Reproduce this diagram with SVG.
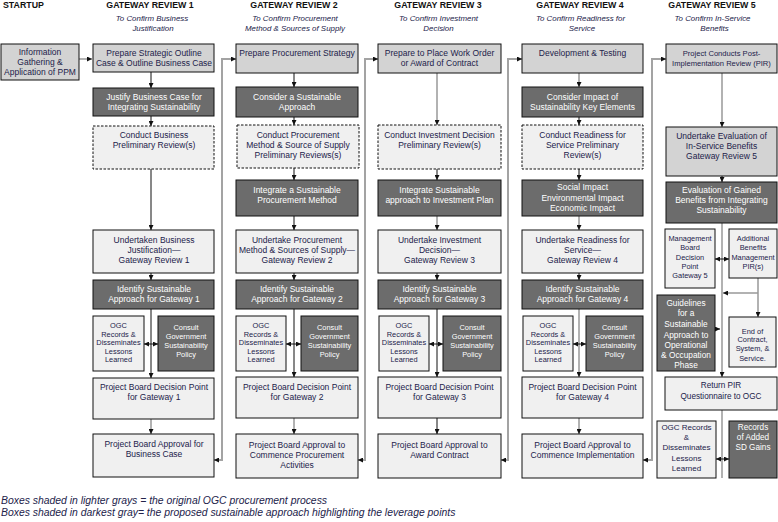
<svg xmlns="http://www.w3.org/2000/svg" width="778" height="522" viewBox="0 0 778 522">
<style>
.lt{fill:#d3d3d3;stroke:#111;stroke-width:1}
.lx{fill:#f0f0f0;stroke:#111;stroke-width:1}
.dk{fill:#6c6c6c;stroke:#111;stroke-width:1}
.ds{fill:#f0f0f0;stroke:#111;stroke-width:1;stroke-dasharray:2.5 1.5}
text{font-family:"Liberation Sans",Arial,sans-serif;font-size:8.5px;fill:#22224a;text-anchor:middle}
text.w{fill:#fff}
text.s{font-size:7.4px}
text.hd{font-weight:bold;font-size:8.8px;fill:#111}
text.sub{font-style:italic;font-size:7.9px}
text.lg{font-style:italic;font-size:10.4px;text-anchor:start}
.cb{stroke:#111;stroke-width:1;fill:none;marker-end:url(#a)}
.cg{stroke:#999;stroke-width:1.5;fill:none;marker-end:url(#a)}
.gl{stroke:#999;stroke-width:1.5;fill:none}
.sd{stroke:#a3a3a3;stroke-width:2;fill:none;marker-start:url(#a);marker-end:url(#a)}
</style>
<defs>
<marker id="a" viewBox="0 0 6 6" refX="6" refY="3" markerWidth="5" markerHeight="5" markerUnits="userSpaceOnUse" orient="auto-start-reverse"><path d="M0,0L6,3L0,6z" fill="#111"/></marker>
</defs>

<g id="headers">
<text class="hd" x="3" y="8" style="text-anchor:start">STARTUP</text>
<text class="hd" x="150" y="8">GATEWAY REVIEW 1</text>
<text class="sub" x="152" y="21">To Confirm Business</text>
<text class="sub" x="153" y="31">Justification</text>
<text class="hd" x="294" y="8">GATEWAY REVIEW 2</text>
<text class="sub" x="295" y="21">To Confirm Procurement</text>
<text class="sub" x="295" y="31">Method &amp; Sources of Supply</text>
<text class="hd" x="438" y="8">GATEWAY REVIEW 3</text>
<text class="sub" x="438.5" y="21">To Confirm Investment</text>
<text class="sub" x="438.5" y="31">Decision</text>
<text class="hd" x="580" y="8">GATEWAY REVIEW 4</text>
<text class="sub" x="580.5" y="21">To Confirm Readiness for</text>
<text class="sub" x="582" y="31">Service</text>
<text class="hd" x="712" y="8">GATEWAY REVIEW 5</text>
<text class="sub" x="712.5" y="21">To Confirm In-Service</text>
<text class="sub" x="714.5" y="31">Benefits</text>
</g>

<g id="connectors">
<line class="gl" x1="79" y1="59" x2="92" y2="59" style="marker-end:url(#a)"/>
<polyline class="sd" points="214,460 222,460 222,59 236,59"/>
<polyline class="sd" points="358,460 365,460 365,59 378,59"/>
<polyline class="sd" points="501,460 508,460 508,59 522,59"/>
<polyline class="sd" points="643,460 652,460 652,59 666,59"/>
<line class="cb" x1="151" y1="72" x2="151" y2="88"/>
<line class="cb" x1="151" y1="116" x2="151" y2="126"/>
<line class="cb" x1="151" y1="169" x2="151" y2="230"/>
<line class="cb" x1="151" y1="273" x2="151" y2="280"/>
<line class="cb" x1="151" y1="309" x2="151" y2="378"/>
<line class="cg" x1="151" y1="419" x2="151" y2="434"/>
<line class="cb" x1="151" y1="344" x2="144" y2="344"/>
<line class="cb" x1="151" y1="344" x2="158" y2="344"/>
<line class="cb" x1="294" y1="73" x2="294" y2="87"/>
<line class="cb" x1="294" y1="117" x2="294" y2="125"/>
<line class="cb" x1="294" y1="168" x2="294" y2="180"/>
<line class="cb" x1="294" y1="216" x2="294" y2="230"/>
<line class="cb" x1="294" y1="273" x2="294" y2="280"/>
<line class="cb" x1="294" y1="309" x2="294" y2="377"/>
<line class="cg" x1="294" y1="418" x2="294" y2="434"/>
<line class="cb" x1="294" y1="344" x2="286" y2="344"/>
<line class="cb" x1="294" y1="344" x2="301" y2="344"/>
<line class="cg" x1="437" y1="73" x2="437" y2="125"/>
<line class="cb" x1="437" y1="169" x2="437" y2="180"/>
<line class="cg" x1="437" y1="216" x2="437" y2="230"/>
<line class="cb" x1="437" y1="273" x2="437" y2="280"/>
<line class="cb" x1="437" y1="309" x2="437" y2="377"/>
<line class="cb" x1="437" y1="418" x2="437" y2="434"/>
<line class="cb" x1="437" y1="344" x2="429" y2="344"/>
<line class="cb" x1="437" y1="344" x2="443" y2="344"/>
<line class="cg" x1="579" y1="73" x2="579" y2="87"/>
<line class="cb" x1="579" y1="117" x2="579" y2="125"/>
<line class="cb" x1="579" y1="169" x2="579" y2="180"/>
<line class="cg" x1="579" y1="216" x2="579" y2="230"/>
<line class="cb" x1="579" y1="273" x2="579" y2="280"/>
<line class="cg" x1="579" y1="309" x2="579" y2="377"/>
<line class="cg" x1="579" y1="418" x2="579" y2="434"/>
<line class="cb" x1="579" y1="344" x2="573" y2="344"/>
<line class="cb" x1="579" y1="344" x2="586" y2="344"/>
<line class="cg" x1="722" y1="73" x2="722" y2="127"/>
<line class="cb" x1="722" y1="176" x2="722" y2="182"/>
<line class="cg" x1="722" y1="223" x2="722" y2="377"/>
<line class="cb" x1="722" y1="259" x2="715" y2="259"/>
<line class="cb" x1="722" y1="259" x2="729" y2="259"/>
<line class="cg" x1="758" y1="278" x2="758" y2="317"/>
<line class="cg" x1="758" y1="293" x2="723" y2="293"/>
<line class="cb" x1="715" y1="329" x2="720" y2="329"/>
<line class="gl" x1="722" y1="410" x2="722" y2="478"/>
<line class="cb" x1="722" y1="459" x2="716" y2="459"/>
<line class="cb" x1="722" y1="459" x2="729" y2="459"/>
</g>

<g id="startup">
<rect class="lt" x="1" y="44" width="78" height="36"/>
<text x="40" y="55">Information</text>
<text x="40" y="65">Gathering &amp;</text>
<text x="40" y="75">Application of PPM</text>
</g>

<g id="g1-prepare"><rect class="lt" x="93" y="44" width="121" height="28"/>
<text x="154" y="56">Prepare Strategic Outline</text><text x="154" y="66">Case &amp; Outline Business Case</text></g>
<g id="g1-justify"><rect class="dk" x="93" y="88" width="121" height="28"/>
<text class="w" x="154" y="100">Justify Business Case for</text><text class="w" x="154" y="110">Integrating Sustainability</text></g>
<g id="g1-conduct"><rect class="ds" x="93" y="126" width="121" height="43"/>
<text x="154" y="138">Conduct Business</text><text x="154" y="148">Preliminary Review(s)</text></g>
<g id="g1-undertaken"><rect class="lx" x="93" y="230" width="121" height="43"/>
<text x="154" y="243">Undertaken Business</text><text x="154" y="253">Justification—</text><text x="154" y="263">Gateway Review 1</text></g>
<g id="g1-identify"><rect class="dk" x="93" y="280" width="121" height="29"/>
<text class="w" x="154" y="292">Identify Sustainable</text><text class="w" x="154" y="302">Approach for Gateway 1</text></g>
<g id="g1-ogc"><rect class="lx" x="93" y="316" width="51" height="55"/>
<text class="s" x="118.5" y="328">OGC</text><text class="s" x="118.5" y="336.5">Records &amp;</text><text class="s" x="118.5" y="345">Disseminates</text><text class="s" x="118.5" y="353.5">Lessons</text><text class="s" x="118.5" y="362">Learned</text></g>
<g id="g1-consult"><rect class="dk" x="158" y="316" width="56" height="55"/>
<text class="s w" x="186" y="330">Consult</text><text class="s w" x="186" y="339">Government</text><text class="s w" x="186" y="348">Sustainability</text><text class="s w" x="186" y="357">Policy</text></g>
<g id="g1-decision"><rect class="lx" x="93" y="378" width="121" height="41"/>
<text x="154" y="390">Project Board Decision Point</text><text x="154" y="400">for Gateway 1</text></g>
<g id="g1-approval"><rect class="lx" x="93" y="434" width="121" height="43"/>
<text x="154" y="447">Project Board Approval for</text><text x="154" y="457">Business Case</text></g>

<g id="g2-prepare"><rect class="lt" x="236" y="44" width="122" height="29"/>
<text x="297" y="56">Prepare Procurement Strategy</text></g>
<g id="g2-consider"><rect class="dk" x="236" y="87" width="122" height="30"/>
<text class="w" x="297" y="100">Consider a Sustainable</text><text class="w" x="297" y="110">Approach</text></g>
<g id="g2-conduct"><rect class="ds" x="237" y="125" width="122" height="43"/>
<text x="298" y="138">Conduct Procurement</text><text x="298" y="148">Method &amp; Source of Supply</text><text x="298" y="158">Preliminary Reviews(s)</text></g>
<g id="g2-integrate"><rect class="dk" x="236" y="180" width="122" height="36"/>
<text class="w" x="297" y="193">Integrate a Sustainable</text><text class="w" x="297" y="203">Procurement Method</text></g>
<g id="g2-undertake"><rect class="lx" x="236" y="230" width="122" height="43"/>
<text x="297" y="243">Undertake Procurement</text><text x="297" y="253">Method &amp; Sources of Supply—</text><text x="297" y="263">Gateway Review 2</text></g>
<g id="g2-identify"><rect class="dk" x="236" y="280" width="122" height="29"/>
<text class="w" x="297" y="292">Identify Sustainable</text><text class="w" x="297" y="302">Approach for Gateway 2</text></g>
<g id="g2-ogc"><rect class="lx" x="236" y="316" width="50" height="55"/>
<text class="s" x="261" y="328">OGC</text><text class="s" x="261" y="336.5">Records &amp;</text><text class="s" x="261" y="345">Disseminates</text><text class="s" x="261" y="353.5">Lessons</text><text class="s" x="261" y="362">Learned</text></g>
<g id="g2-consult"><rect class="dk" x="301" y="316" width="57" height="55"/>
<text class="s w" x="329.5" y="330">Consult</text><text class="s w" x="329.5" y="339">Government</text><text class="s w" x="329.5" y="348">Sustainability</text><text class="s w" x="329.5" y="357">Policy</text></g>
<g id="g2-decision"><rect class="lx" x="236" y="377" width="122" height="41"/>
<text x="297" y="390">Project Board Decision Point</text><text x="297" y="400">for Gateway 2</text></g>
<g id="g2-approval"><rect class="lx" x="236" y="434" width="122" height="44"/>
<text x="297" y="448">Project Board Approval to</text><text x="297" y="458">Commence Procurement</text><text x="297" y="468">Activities</text></g>

<g id="g3-prepare"><rect class="lt" x="378" y="44" width="123" height="29"/>
<text x="439.5" y="56">Prepare to Place Work Order</text><text x="439.5" y="66">or Award of Contract</text></g>
<g id="g3-conduct"><rect class="ds" x="378" y="125" width="123" height="44"/>
<text x="439.5" y="138">Conduct Investment Decision</text><text x="439.5" y="148">Preliminary Review(s)</text></g>
<g id="g3-integrate"><rect class="dk" x="378" y="180" width="123" height="36"/>
<text class="w" x="439.5" y="193">Integrate Sustainable</text><text class="w" x="439.5" y="203">approach to Investment Plan</text></g>
<g id="g3-undertake"><rect class="lx" x="378" y="230" width="123" height="43"/>
<text x="439.5" y="243">Undertake Investment</text><text x="439.5" y="253">Decision—</text><text x="439.5" y="263">Gateway Review 3</text></g>
<g id="g3-identify"><rect class="dk" x="378" y="280" width="123" height="29"/>
<text class="w" x="439.5" y="292">Identify Sustainable</text><text class="w" x="439.5" y="302">Approach for Gateway 3</text></g>
<g id="g3-ogc"><rect class="lx" x="379" y="316" width="50" height="55"/>
<text class="s" x="404" y="328">OGC</text><text class="s" x="404" y="336.5">Records &amp;</text><text class="s" x="404" y="345">Disseminates</text><text class="s" x="404" y="353.5">Lessons</text><text class="s" x="404" y="362">Learned</text></g>
<g id="g3-consult"><rect class="dk" x="443" y="316" width="58" height="55"/>
<text class="s w" x="472" y="330">Consult</text><text class="s w" x="472" y="339">Government</text><text class="s w" x="472" y="348">Sustainability</text><text class="s w" x="472" y="357">Policy</text></g>
<g id="g3-decision"><rect class="lx" x="378" y="377" width="123" height="41"/>
<text x="439.5" y="390">Project Board Decision Point</text><text x="439.5" y="400">for Gateway 3</text></g>
<g id="g3-approval"><rect class="lx" x="378" y="434" width="123" height="44"/>
<text x="439.5" y="448">Project Board Approval to</text><text x="439.5" y="458">Award Contract</text></g>

<g id="g4-dev"><rect class="lt" x="522" y="44" width="121" height="29"/>
<text x="582.5" y="56">Development &amp; Testing</text></g>
<g id="g4-consider"><rect class="dk" x="522" y="87" width="121" height="30"/>
<text class="w" x="582.5" y="100">Consider Impact of</text><text class="w" x="582.5" y="110">Sustainability Key Elements</text></g>
<g id="g4-conduct"><rect class="ds" x="522" y="125" width="121" height="44"/>
<text x="582.5" y="138">Conduct Readiness for</text><text x="582.5" y="148">Service Preliminary</text><text x="582.5" y="158">Review(s)</text></g>
<g id="g4-impact"><rect class="dk" x="522" y="180" width="121" height="36"/>
<text class="w" x="582.5" y="190">Social Impact</text><text class="w" x="582.5" y="201">Environmental Impact</text><text class="w" x="582.5" y="211">Economic Impact</text></g>
<g id="g4-undertake"><rect class="lx" x="522" y="230" width="121" height="43"/>
<text x="582.5" y="243">Undertake Readiness for</text><text x="582.5" y="253">Service—</text><text x="582.5" y="263">Gateway Review 4</text></g>
<g id="g4-identify"><rect class="dk" x="522" y="280" width="121" height="29"/>
<text class="w" x="582.5" y="292">Identify Sustainable</text><text class="w" x="582.5" y="302">Approach for Gateway 4</text></g>
<g id="g4-ogc"><rect class="lx" x="523" y="316" width="50" height="55"/>
<text class="s" x="548" y="328">OGC</text><text class="s" x="548" y="336.5">Records &amp;</text><text class="s" x="548" y="345">Disseminates</text><text class="s" x="548" y="353.5">Lessons</text><text class="s" x="548" y="362">Learned</text></g>
<g id="g4-consult"><rect class="dk" x="586" y="316" width="57" height="55"/>
<text class="s w" x="614.5" y="330">Consult</text><text class="s w" x="614.5" y="339">Government</text><text class="s w" x="614.5" y="348">Sustainability</text><text class="s w" x="614.5" y="357">Policy</text></g>
<g id="g4-decision"><rect class="lx" x="522" y="377" width="121" height="41"/>
<text x="582.5" y="390">Project Board Decision Point</text><text x="582.5" y="400">for Gateway 4</text></g>
<g id="g4-approval"><rect class="lx" x="522" y="434" width="121" height="44"/>
<text x="582.5" y="448">Project Board Approval to</text><text x="582.5" y="458">Commence Implementation</text></g>

<g id="g5-pir"><rect class="lt" x="666" y="44" width="111" height="29"/>
<text x="721.5" y="56" style="font-size:7.6px">Project Conducts Post-</text><text x="721.5" y="66" style="font-size:7.6px">Implementation Review (PIR)</text></g>
<g id="g5-undertake"><rect class="lt" x="666" y="127" width="111" height="49"/>
<text x="721.5" y="139">Undertake Evaluation of</text><text x="721.5" y="149">In-Service Benefits</text><text x="721.5" y="159">Gateway Review 5</text></g>
<g id="g5-eval"><rect class="dk" x="666" y="182" width="111" height="41"/>
<text class="w" x="721.5" y="193">Evaluation of Gained</text><text class="w" x="721.5" y="203">Benefits from Integrating</text><text class="w" x="721.5" y="213">Sustainability</text></g>
<g id="g5-mgmt"><rect class="lx" x="665" y="229" width="50" height="59"/>
<text class="s" x="690" y="241">Management</text><text class="s" x="690" y="250">Board</text><text class="s" x="690" y="260">Decision</text><text class="s" x="690" y="269">Point</text><text class="s" x="690" y="278">Gateway 5</text></g>
<g id="g5-additional"><rect class="lx" x="729" y="229" width="48" height="49"/>
<text class="s" x="753" y="241">Additional</text><text class="s" x="753" y="250">Benefits</text><text class="s" x="753" y="260">Management</text><text class="s" x="753" y="269">PIR(s)</text></g>
<g id="g5-guidelines"><rect class="dk" x="657" y="295" width="58" height="76"/>
<text class="w" x="686" y="306" style="font-size:8.3px">Guidelines</text><text class="w" x="686" y="316" style="font-size:8.3px">for a</text><text class="w" x="686" y="327" style="font-size:8.3px">Sustainable</text><text class="w" x="686" y="338" style="font-size:8.3px">Approach to</text><text class="w" x="686" y="348" style="font-size:8.3px">Operational</text><text class="w" x="686" y="358" style="font-size:8.3px">&amp; Occupation</text><text class="w" x="686" y="368" style="font-size:8.3px">Phase</text></g>
<g id="g5-end"><rect class="lx" x="729" y="317" width="47" height="50"/>
<text class="s" x="752.5" y="334">End of</text><text class="s" x="752.5" y="342">Contract,</text><text class="s" x="752.5" y="351">System, &amp;</text><text class="s" x="752.5" y="361">Service.</text></g>
<g id="g5-return"><rect class="lx" x="665" y="377" width="112" height="33"/>
<text x="721" y="388" style="font-size:8.2px">Return PIR</text><text x="721" y="399" style="font-size:8.2px">Questionnaire to OGC</text></g>
<g id="g5-ogc"><rect class="lx" x="657" y="421" width="59" height="57"/>
<text x="686.5" y="430" style="font-size:8px">OGC Records</text><text x="686.5" y="440" style="font-size:8px">&amp;</text><text x="686.5" y="450" style="font-size:8px">Disseminates</text><text x="686.5" y="461" style="font-size:8px">Lessons</text><text x="686.5" y="471" style="font-size:8px">Learned</text></g>
<g id="g5-records"><rect class="dk" x="729" y="421" width="48" height="57"/>
<text class="w" x="753" y="430" style="font-size:8.2px">Records</text><text class="w" x="753" y="440" style="font-size:8.2px">of Added</text><text class="w" x="753" y="450" style="font-size:8.2px">SD Gains</text></g>

<g id="legend">
<text class="lg" x="1" y="504">Boxes shaded in lighter grays = the original OGC procurement process</text>
<text class="lg" x="1" y="516">Boxes shaded in darkest gray= the proposed sustainable approach highlighting the leverage points</text>
</g>
</svg>
